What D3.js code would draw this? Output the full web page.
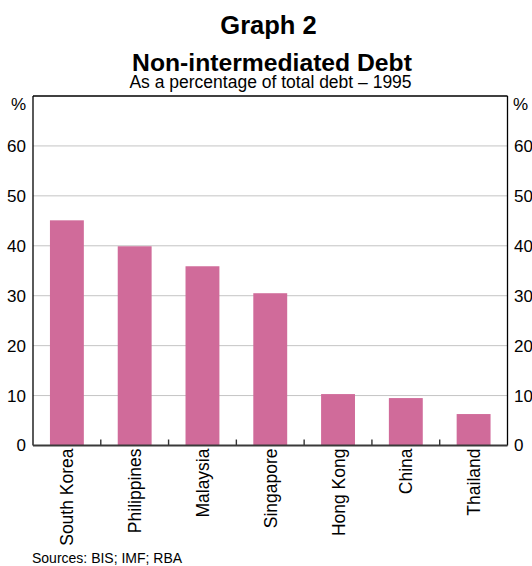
<!DOCTYPE html>
<html lang="en">
<head>
<meta charset="UTF-8">
<title>Graph 2</title>
<style>
  body { margin: 0; background: #fff; }
  svg { font-family: Arial, "Liberation Sans", sans-serif; }
  .bar { fill: #d06b9a; }
  .grid line { stroke: #c4c4c4; stroke-width: 1; }
</style>
</head>
<body>
<svg id="chart" width="532" height="566"></svg>
<script src="https://d3js.org/d3.v7.min.js"></script>
<script>
  var countries = ['South Korea', 'Philippines', 'Malaysia', 'Singapore', 'Hong Kong', 'China', 'Thailand']
  var debtShare = [45.1, 39.9, 35.9, 30.5, 10.3, 9.5, 6.3]
  var yTicks = [0, 10, 20, 30, 40, 50, 60]

  var plotLeft = 33, plotRight = 507.5, plotTop = 96, plotBottom = 445.5
  var fontStack = 'Arial, "Liberation Sans", sans-serif'
  var svg = d3.select('#chart')

  var x = d3.scaleBand()
      .domain(countries)
      .range([plotLeft, plotRight])
      .paddingInner(0.5)
      .paddingOuter(0.25)

  var y = d3.scaleLinear()
      .domain([0, 70])
      .range([plotBottom, plotTop])

  // gridlines
  svg.append('g')
      .attr('class', 'grid')
      .selectAll('line')
      .data(yTicks.filter(function (d) { return d > 0 }))
      .enter()
      .append('line')
      .attr('x1', plotLeft)
      .attr('x2', plotRight)
      .attr('y1', function (d) { return y(d) })
      .attr('y2', function (d) { return y(d) })

  // bars
  svg.selectAll('rect.bar')
      .data(countries)
      .enter()
      .append('rect')
      .attr('class', 'bar')
      .attr('x', function (d) { return x(d) })
      .attr('width', x.bandwidth())
      .attr('y', function (d, i) { return y(debtShare[i]) })
      .attr('height', function (d, i) { return plotBottom - y(debtShare[i]) })

  // frame
  svg.append('line').attr('x1', plotLeft).attr('x2', plotRight).attr('y1', plotTop).attr('y2', plotTop)
      .attr('stroke', '#000').attr('stroke-width', 1.3)
  svg.append('line').attr('x1', plotLeft).attr('x2', plotLeft).attr('y1', plotTop).attr('y2', plotBottom)
      .attr('stroke', '#000').attr('stroke-width', 1.3)
  svg.append('line').attr('x1', plotRight).attr('x2', plotRight).attr('y1', plotTop).attr('y2', plotBottom)
      .attr('stroke', '#000').attr('stroke-width', 1.3)

  // y axes (labels only)
  var yLeft = svg.append('g')
      .attr('transform', 'translate(' + plotLeft + ',0)')
      .call(d3.axisLeft(y).tickValues(yTicks).tickSize(0).tickPadding(7))
  yLeft.select('.domain').remove()

  var yRight = svg.append('g')
      .attr('transform', 'translate(' + plotRight + ',0)')
      .call(d3.axisRight(y).tickValues(yTicks).tickSize(0).tickPadding(6.5))
  yRight.select('.domain').remove()

  svg.selectAll('g.tick text')
      .style('font-family', fontStack)
      .style('font-size', '17px')
      .attr('fill', '#000')

  svg.append('text').attr('x', plotLeft - 7).attr('y', plotTop + 14).attr('text-anchor', 'end')
      .attr('font-size', 17).text('%')
  svg.append('text').attr('x', plotRight + 5.5).attr('y', plotTop + 14)
      .attr('font-size', 17).text('%')

  // x axis: separator ticks between categories, pointing up
  var step = x.step()
  var seps = countries.slice(1).map(function (d) { return x(d) - (step - x.bandwidth()) / 2 })
  svg.selectAll('line.sep')
      .data(seps)
      .enter()
      .append('line')
      .attr('x1', function (d) { return d })
      .attr('x2', function (d) { return d })
      .attr('y1', plotBottom)
      .attr('y2', plotBottom - 6)
      .attr('stroke', '#333')
      .attr('stroke-width', 1.4)

  svg.append('line').attr('x1', plotLeft).attr('x2', plotRight).attr('y1', plotBottom).attr('y2', plotBottom)
      .attr('stroke', '#3a3a3a').attr('stroke-width', 2)

  svg.selectAll('text.cat')
      .data(countries)
      .enter()
      .append('text')
      .attr('class', 'cat')
      .attr('font-size', 17.5)
      .attr('text-anchor', 'end')
      .attr('transform', function (d) {
        return 'translate(' + (x(d) + x.bandwidth() / 2 + 6.5) + ',' + (plotBottom + 3) + ') rotate(-90)'
      })
      .text(function (d) { return d })

  // titles
  svg.append('text').attr('x', 268.5).attr('y', 34).attr('text-anchor', 'middle')
      .attr('font-size', 25.5).attr('font-weight', 'bold').text('Graph 2')
  svg.append('text').attr('x', 272).attr('y', 70.5).attr('text-anchor', 'middle')
      .attr('font-size', 24.7).attr('font-weight', 'bold')
      .text('Non-intermediated Debt')
  svg.append('text').attr('x', 270.5).attr('y', 88).attr('text-anchor', 'middle')
      .attr('font-size', 17.5)
      .text('As a percentage of total debt \u2013 1995')

  svg.append('text').attr('x', 32).attr('y', 563)
      .attr('font-size', 14).text('Sources: BIS; IMF; RBA')
</script>
</body>
</html>
